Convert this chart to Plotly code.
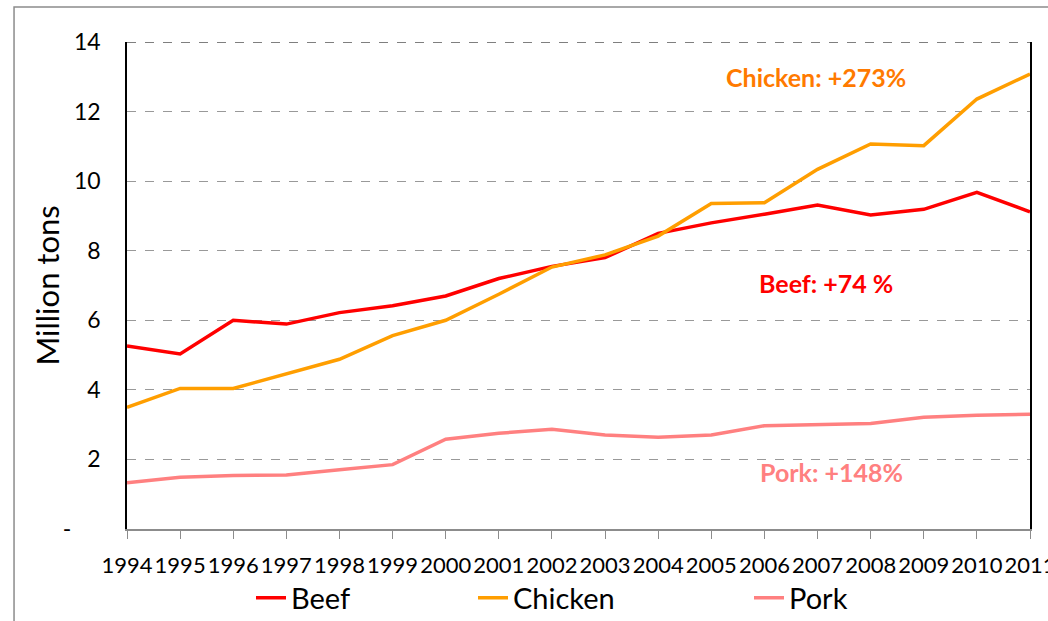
import plotly.graph_objects as go

years = list(range(1994, 2012))
beef = [5.26, 5.03, 6.0, 5.89, 6.22, 6.42, 6.7, 7.2, 7.55, 7.8, 8.5, 8.8, 9.05, 9.31, 9.03, 9.19, 9.68, 9.12]
chicken = [3.5, 4.04, 4.04, 4.47, 4.88, 5.56, 6.0, 6.75, 7.53, 7.88, 8.42, 9.36, 9.38, 10.34, 11.07, 11.02, 12.36, 13.08]
pork = [1.33, 1.49, 1.54, 1.55, 1.70, 1.85, 2.58, 2.75, 2.87, 2.70, 2.64, 2.70, 2.97, 2.99, 3.03, 3.21, 3.27, 3.30]

series_names = ["Beef", "Chicken", "Pork"]
series_colors = ["#FF0000", "#FF9E00", "#FF8080"]
y_tickvals = [0, 2, 4, 6, 8, 10, 12, 14]
y_ticktext = ["-\u00a0\u00a0\u00a0\u00a0\u00a0", "2", "4", "6", "8", "10", "12", "14"]
y_title = "Million tons"

annotations_text = ["Chicken: +273%", "Beef: +74 %", "Pork: +148%"]
annotations_pos = [(2006.97, 12.99), (2007.16, 7.07), (2007.27, 1.64)]
annotations_color = ["#FF7A00", "#FF0000", "#FF8080"]

FONT = "Lato, 'Open Sans', sans-serif"

legend_ids = ["legend", "legend2", "legend3"]
legend_x_px = [251, 473, 749]

fig = go.Figure()
for name, vals, col, lid in zip(series_names, [beef, chicken, pork], series_colors, legend_ids):
    fig.add_trace(go.Scatter(x=years, y=vals, name=name, mode="lines", legend=lid,
                             line=dict(color=col, width=3.5)))

for txt, (ax, ay), col in zip(annotations_text, annotations_pos, annotations_color):
    fig.add_annotation(x=ax, y=ay, text="<b>" + txt + "</b>", showarrow=False,
                       font=dict(family=FONT, size=25, color=col))

# y-axis title
fig.add_annotation(xref="paper", yref="paper", x=(46 - 127) / 903, y=0.5, text=y_title,
                   textangle=-90, showarrow=False, xanchor="center", yanchor="middle",
                   font=dict(family=FONT, size=31, color="black"))

# top dashed line at the axis maximum
fig.add_shape(type="line", xref="paper", yref="y", x0=0, x1=1,
              y0=max(y_tickvals), y1=max(y_tickvals),
              line=dict(color="#555555", width=1.5, dash="dash"))

# outer frame
fig.add_shape(type="rect", xref="paper", yref="paper",
              x0=-0.1251, x1=1.05, y0=-0.25, y1=1.0719,
              line=dict(color="#8c8c8c", width=1.5), fillcolor="rgba(0,0,0,0)", layer="below")

legend_common = dict(orientation="h", xref="container", yref="container", xanchor="left",
                     yanchor="middle", y=1 - 598 / 621, font=dict(size=29, color="black"),
                     bgcolor="rgba(0,0,0,0)")

fig.update_layout(
    width=1048, height=621,
    margin=dict(l=127, r=18, t=42, b=92, autoexpand=False),
    paper_bgcolor="white", plot_bgcolor="white",
    font=dict(family=FONT, color="black"),
    showlegend=True,
    legend=dict(x=legend_x_px[0] / 1048, **legend_common),
    legend2=dict(x=legend_x_px[1] / 1048, **legend_common),
    legend3=dict(x=legend_x_px[2] / 1048, **legend_common),
    xaxis=dict(range=[1994, 2011], tickvals=years, ticktext=[str(y) for y in years],
               showgrid=False, zeroline=False, showline=True, linecolor="#8c8c8c", linewidth=1.5,
               ticks="outside", ticklen=8, tickcolor="#8c8c8c", tickwidth=1, automargin=False,
               ticklabeloverflow="allow", tickangle=0,
               tickfont=dict(size=22, color="black"), ticklabelstandoff=8),
    yaxis=dict(range=[0, 14], tickvals=y_tickvals, ticktext=y_ticktext, automargin=False,
               showgrid=True, gridcolor="#999999", griddash="dash", gridwidth=1,
               zeroline=False, showline=True, linecolor="black", linewidth=1.5, mirror=True,
               ticks="", tickfont=dict(size=23, color="black"), ticklabelstandoff=20),
)

fig.write_html("out.html", config={"displayModeBar": False},
               post_script="document.body.style.margin='0';")
